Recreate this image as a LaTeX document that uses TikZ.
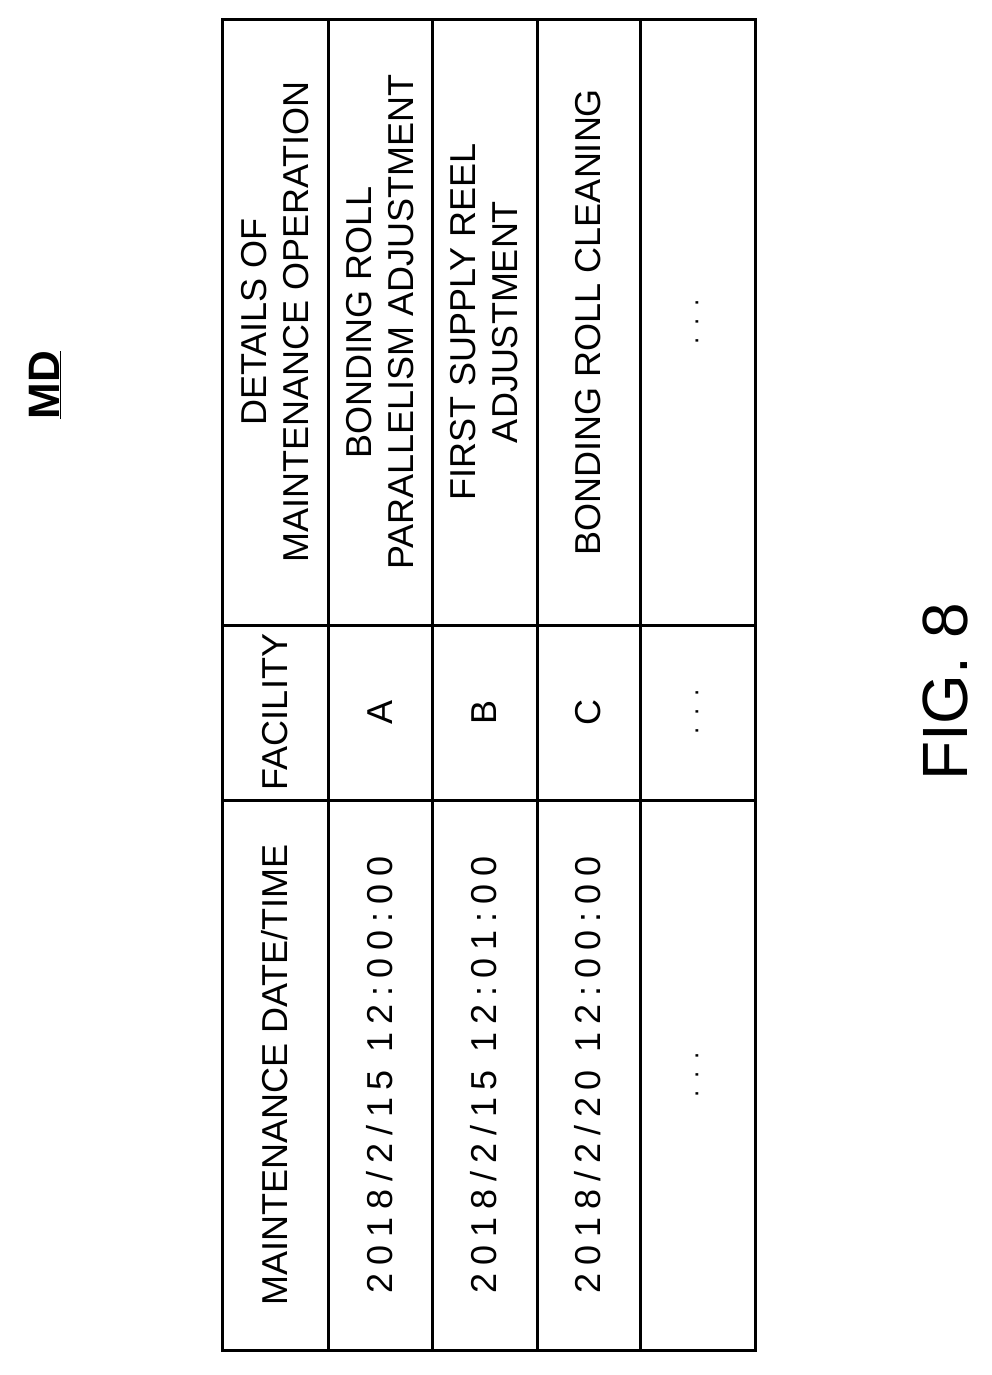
\documentclass[tikz,border=0pt]{standalone}
\usepackage{fontspec}
\setmainfont{Liberation Sans}
\newfontfamily\datefont[LetterSpace=22]{Liberation Sans}
\begin{document}
\begin{tikzpicture}[x=1pt,y=-1pt,
  cell/.style={rotate=90,align=center,font=\fontsize{36}{42}\selectfont,inner sep=0pt},
  datecell/.style={cell,font=\fontsize{36}{42}\datefont},
  dots/.style={rotate=90,inner sep=0pt,font=\fontsize{26}{26}\selectfont},
  grid/.style={line width=3pt}]
\useasboundingbox (0,0) rectangle (991,1375);
% title
\node[rotate=90,font=\fontsize{44}{50}\selectfont\bfseries] (md) at (45,385) {\underline{MD}};
% table frame
\draw[grid] (222,20) rectangle (755,1350);
\foreach \x in {328,432,537,640} \draw[grid] (\x,20) -- (\x,1350);
\draw[grid] (222,625) -- (755,625);
\draw[grid] (222,800) -- (755,800);
% header row
\node[cell] (hdate) at (275,1075) {MAINTENANCE DATE/TIME};
\node[cell] (hfac) at (275,712) {FACILITY};
\node[cell] (hdet) at (275,322) {DETAILS OF\\MAINTENANCE OPERATION};
% row A
\node[datecell] (datea) at (380,1075) {2018/2/15 12:00:00};
\node[cell] (faca) at (380,712) {A};
\node[cell] (deta) at (380,322) {BONDING ROLL\\PARALLELISM ADJUSTMENT};
% row B
\node[datecell] (dateb) at (484,1075) {2018/2/15 12:01:00};
\node[cell] (facb) at (484,712) {B};
\node[cell] (detb) at (484,322) {FIRST SUPPLY REEL\\ADJUSTMENT};
% row C
\node[datecell] (datec) at (588,1075) {2018/2/20 12:00:00};
\node[cell] (facc) at (588,712) {C};
\node[cell] (detc) at (588,322) {BONDING ROLL CLEANING};
% last row
\node[dots] (dated) at (697,1075) {.\hspace{12pt}.\hspace{12pt}.};
\node[dots] (facd) at (697,712) {.\hspace{12pt}.\hspace{12pt}.};
\node[dots] (detd) at (697,322) {.\hspace{12pt}.\hspace{12pt}.};
% caption
\node[rotate=90,font=\fontsize{64}{70}\selectfont] (fig) at (945,692) {FIG. 8};
\end{tikzpicture}
\end{document}
